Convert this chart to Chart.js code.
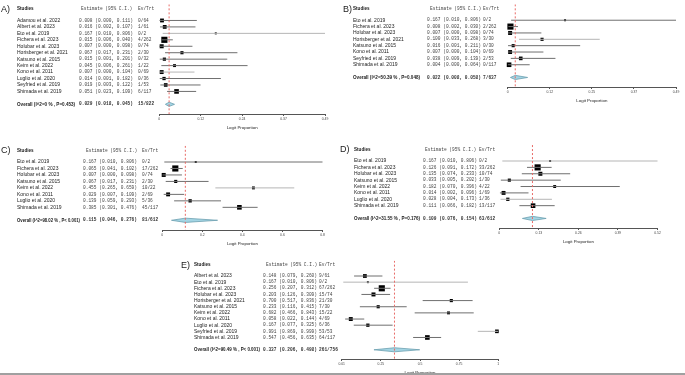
<!DOCTYPE html>
<html>
<head>
<meta charset="utf-8">
<script src="https://cdn.jsdelivr.net/npm/chart.js@4.4.0/dist/chart.umd.min.js"></script>
<style>
html, body { margin:0; padding:0; background:#fff; width:685px; height:375px; overflow:hidden; position:relative; }
canvas { position:absolute; }
#rule { position:absolute; left:0; top:373px; width:685px; height:2px; background:#a0a0a0; z-index:5; }
</style>
</head>
<body>
<canvas id="cA"></canvas>
<canvas id="cB"></canvas>
<canvas id="cC"></canvas>
<canvas id="cD"></canvas>
<canvas id="cE"></canvas>
<div id="rule"></div>
<script>
// ---- data ----
const studiesA = ['Adamou et al. 2022','Albert et al. 2023','Eto et al. 2019','Fichera et al. 2023','Holubar et al. 2023','Horisberger et al. 2021','Katsuno et al. 2015','Keim et al. 2022','Kono et al. 2011','Luglio et al. 2020','Seyfried et al. 2019','Shimada et al. 2019'];
const estA = [0.008,0.016,0.167,0.015,0.007,0.067,0.015,0.045,0.007,0.014,0.019,0.051];
const loA  = [0.000,0.002,0.010,0.006,0.000,0.017,0.001,0.006,0.000,0.001,0.003,0.023];
const hiA  = [0.111,0.107,0.806,0.040,0.098,0.231,0.201,0.261,0.104,0.182,0.122,0.109];
const evA  = ['0/64','1/61','0/2','4/262','0/74','2/30','0/32','1/22','0/69','0/36','1/53','6/117'];
const overallA = ['Overall (I^2=0 % , P=0.453)', 0.029, 0.018, 0.045, '15/822'];
const ticksA = ['0','0.12','0.24','0.37','0.49'];

const studiesB = ['Eto et al. 2019','Fichera et al. 2023','Holubar et al. 2023','Horisberger et al. 2021','Katsuno et al. 2015','Kono et al. 2011','Seyfried et al. 2019','Shimada et al. 2019'];
const estB = [0.167,0.008,0.007,0.100,0.016,0.007,0.038,0.004];
const loB  = [0.010,0.002,0.000,0.033,0.001,0.000,0.009,0.000];
const hiB  = [0.806,0.030,0.098,0.268,0.211,0.104,0.139,0.064];
const evB  = ['0/2','2/262','0/74','3/30','0/30','0/69','2/53','0/117'];
const overallB = ['Overall (I^2=50.39 % , P=0.048)', 0.022, 0.008, 0.058, '7/637'];
const ticksB = ['0','0.12','0.25','0.37','0.49'];

const studiesC = ['Eto et al. 2019','Fichera et al. 2023','Holubar et al. 2023','Katsuno et al. 2015','Keim et al. 2022','Kono et al. 2011','Luglio et al. 2020','Shimada et al. 2019'];
const estC = [0.167,0.065,0.007,0.067,0.455,0.029,0.139,0.385];
const loC  = [0.010,0.041,0.000,0.017,0.265,0.007,0.059,0.301];
const hiC  = [0.806,0.102,0.098,0.231,0.659,0.109,0.293,0.476];
const evC  = ['0/2','17/262','0/74','2/30','10/22','2/69','5/36','45/117'];
const overallC = ['Overall (I^2=98.02 % , P< 0.001)', 0.115, 0.046, 0.276, '81/612'];
const ticksC = ['0','0.2','0.4','0.6','0.8'];

const studiesD = ['Eto et al. 2019','Fichera et al. 2023','Holubar et al. 2023','Katsuno et al. 2015','Keim et al. 2022','Kono et al. 2011','Luglio et al. 2020','Shimada et al. 2019'];
const estD = [0.167,0.126,0.135,0.033,0.182,0.014,0.028,0.111];
const loD  = [0.010,0.091,0.074,0.005,0.070,0.002,0.004,0.066];
const hiD  = [0.806,0.172,0.233,0.202,0.396,0.096,0.173,0.182];
const evD  = ['0/2','33/262','10/74','1/30','4/22','1/69','1/36','13/117'];
const overallD = ['Overall (I^2=31.55 % , P=0.176)', 0.109, 0.076, 0.154, '63/612'];
const ticksD = ['0','0.13','0.26','0.39','0.52'];

const studiesE = ['Albert et al. 2023','Eto et al. 2019','Fichera et al. 2023','Holubar et al. 2023','Horisberger et al. 2021','Katsuno et al. 2015','Keim et al. 2022','Kono et al. 2011','Luglio et al. 2020','Seyfried et al. 2019','Shimada et al. 2019'];
const estE = [0.148,0.167,0.256,0.203,0.700,0.233,0.682,0.058,0.167,0.991,0.547];
const loE  = [0.079,0.010,0.207,0.126,0.517,0.116,0.466,0.022,0.077,0.869,0.456];
const hiE  = [0.260,0.806,0.312,0.309,0.836,0.415,0.843,0.144,0.325,0.999,0.635];
const evE  = ['9/61','0/2','67/262','15/74','21/30','7/30','15/22','4/69','6/36','53/53','64/117'];
const overallE = ['Overall (I^2=90.49 % , P< 0.001)', 0.337, 0.206, 0.498, '261/756'];
const ticksE = ['0.01','0.25','0.5','0.75','1'];

const SANS = '"Liberation Sans", Arial, sans-serif';
const MONO = '"Liberation Mono", "Courier New", monospace';

function ci(e, l, h) {
  return e.toFixed(3) + ' (' + l.toFixed(3) + ', ' + h.toFixed(3) + ')';
}

// one forest plot per canvas
function forest(cfg) {
  const n = cfg.studies.length;
  const g = cfg.geo;
  const s = (g.ax - g.r0) / (n + 2.5);
  const chartTop = g.r0 - 2.5 * s;
  const H = Math.round(g.ax - g.top + 16);
  const cv = document.getElementById(cfg.id);
  cv.width = g.width; cv.height = H;
  cv.style.left = g.left + 'px'; cv.style.top = g.top + 'px';
  cv.style.width = g.width + 'px'; cv.style.height = H + 'px';

  const ov = cfg.overall;
  const yo = n + 1;
  const ds = [];
  // red dashed summary line
  ds.push({ data: [{x: ov[1], y: -2.5}, {x: ov[1], y: n + 2.5}], showLine: true,
    borderColor: '#e86a66', borderDash: [2, 2], borderWidth: 1, pointRadius: 0 });
  // CI lines
  cfg.studies.forEach((_, i) => {
    ds.push({ data: [{x: cfg.lo[i], y: i}, {x: cfg.hi[i], y: i}], showLine: true,
      borderColor: cfg.light.includes(i) ? '#b5b5b5' : '#6f6f6f', borderWidth: 1, pointRadius: 0 });
  });
  // point estimates, size by study size
  const sizes = cfg.ev.map(t => {
    const trt = +t.split('/')[1];
    return (1.6 + Math.sqrt(trt) * 0.28) / Math.SQRT2;
  });
  ds.push({ data: cfg.est.map((v, i) => ({x: v, y: i})), pointStyle: 'rect',
    pointRadius: sizes, backgroundColor: '#000', borderWidth: 0, clip: false });
  // overall diamond
  ds.push({ data: [{x: ov[2], y: yo}, {x: ov[1], y: yo - 0.33}, {x: ov[3], y: yo},
      {x: ov[1], y: yo + 0.33}, {x: ov[2], y: yo}],
    showLine: true, fill: 'shape', backgroundColor: '#a3d5e4', borderColor: '#6c9fb0',
    borderWidth: 0.8, pointRadius: 0 });

  const textPlugin = {
    id: 'text' + cfg.id,
    afterDraw(chart) {
      const ctx = chart.ctx, y = chart.scales.y, L = g.left;
      const hy = y.getPixelForValue(-1.8);
      const nameW = g.estX - g.nameX - 3;
      ctx.save();
      ctx.textBaseline = 'middle';
      ctx.textAlign = 'left';
      ctx.fillStyle = '#222';
      ctx.font = '9px ' + SANS;
      ctx.fillText(cfg.letter, g.letterX - L, hy + 0.5);
      ctx.font = 'bold 4.6px ' + SANS;
      ctx.fillText('Studies', g.nameX - L, hy);
      ctx.fillStyle = '#444';
      ctx.font = '4.5px ' + MONO;
      ctx.fillText('Estimate (95% C.I.)', g.headX - L, hy);
      ctx.fillText('Ev/Trt', g.evX - L, hy);
      cfg.studies.forEach((name, i) => {
        const py = y.getPixelForValue(i);
        ctx.fillStyle = '#222';
        ctx.font = '5px ' + SANS;
        ctx.fillText(name, g.nameX - L, py, nameW);
        ctx.fillStyle = '#444';
        ctx.font = '4.5px ' + MONO;
        ctx.fillText(ci(cfg.est[i], cfg.lo[i], cfg.hi[i]), g.estX - L, py);
        ctx.fillText(cfg.ev[i], g.evX - L, py);
      });
      const oy = y.getPixelForValue(yo);
      ctx.fillStyle = '#222';
      ctx.font = 'bold 4.6px ' + SANS;
      ctx.fillText(ov[0], g.nameX - L, oy, nameW);
      ctx.fillStyle = '#333';
      ctx.font = 'bold 4.5px ' + MONO;
      ctx.fillText(ci(ov[1], ov[2], ov[3]), g.estX - L, oy);
      ctx.fillText(ov[4], g.evX - L, oy);
      ctx.restore();
    }
  };

  const tickLabels = cfg.ticks;
  new Chart(cv, {
    type: 'scatter',
    data: { datasets: ds },
    plugins: [textPlugin],
    options: {
      responsive: false,
      animation: false,
      events: [],
      layout: { padding: { left: g.axL - g.left, right: g.left + g.width - g.axR, top: chartTop - g.top, bottom: 0 } },
      plugins: { legend: { display: false }, tooltip: { enabled: false } },
      scales: {
        x: {
          type: 'linear', min: cfg.min, max: cfg.max,
          afterBuildTicks(scale) {
            scale.ticks = [0, 1, 2, 3, 4].map(k => ({ value: cfg.min + k * (cfg.max - cfg.min) / 4 }));
          },
          afterFit(scale) { scale.height = 16; },
          border: { display: true, color: '#555', width: 1 },
          grid: { display: true, drawOnChartArea: false, drawTicks: true, tickLength: 2, color: '#555' },
          ticks: {
            autoSkip: false, maxRotation: 0, padding: 1.5, color: '#444',
            font: { size: 3.4, family: SANS },
            callback: (v, i) => tickLabels[i]
          },
          title: { display: true, text: 'Logit Proportion', color: '#222',
            font: { size: 4.4, family: SANS }, padding: { top: 0.5, bottom: 0 } }
        },
        y: { type: 'linear', display: false, reverse: true, min: -2.5, max: n + 2.5 }
      }
    }
  });
}

forest({ id: 'cA', letter: 'A)', studies: studiesA, est: estA, lo: loA, hi: hiA, ev: evA,
  overall: overallA, ticks: ticksA, min: 0, max: 0.49, light: [2, 8],
  geo: { left: 0, top: 0, width: 335, r0: 17, ax: 114, axL: 159.3, axR: 325,
    nameX: 17, estX: 79, headX: 81, evX: 138, letterX: 1 } });

forest({ id: 'cB', letter: 'B)', studies: studiesB, est: estB, lo: loB, hi: hiB, ev: evB,
  overall: overallB, ticks: ticksB, min: 0, max: 0.49, light: [3],
  geo: { left: 342, top: 0, width: 343, r0: 18, ax: 87, axL: 507.7, axR: 676,
    nameX: 353, estX: 427, headX: 430, evX: 483, letterX: 343 } });

forest({ id: 'cC', letter: 'C)', studies: studiesC, est: estC, lo: loC, hi: hiC, ev: evC,
  overall: overallC, ticks: ticksC, min: 0, max: 0.8, light: [4],
  geo: { left: 0, top: 140, width: 335, r0: 162, ax: 230, axL: 162.3, axR: 322.5,
    nameX: 17, estX: 83, headX: 86, evX: 142, letterX: 1 } });

forest({ id: 'cD', letter: 'D)', studies: studiesD, est: estD, lo: loD, hi: hiD, ev: evD,
  overall: overallD, ticks: ticksD, min: 0, max: 0.52, light: [0, 6],
  geo: { left: 340, top: 140, width: 345, r0: 161, ax: 228, axL: 499.3, axR: 657.5,
    nameX: 354, estX: 423, headX: 425, evX: 479, letterX: 340 } });

forest({ id: 'cE', letter: 'E)', studies: studiesE, est: estE, lo: loE, hi: hiE, ev: evE,
  overall: overallE, ticks: ticksE, min: 0, max: 1, light: [1, 9],
  geo: { left: 180, top: 255, width: 330, r0: 276, ax: 359, axL: 341.7, axR: 498.3,
    nameX: 194, estX: 263, headX: 266, evX: 319, letterX: 181 } });
</script>
</body>
</html>
